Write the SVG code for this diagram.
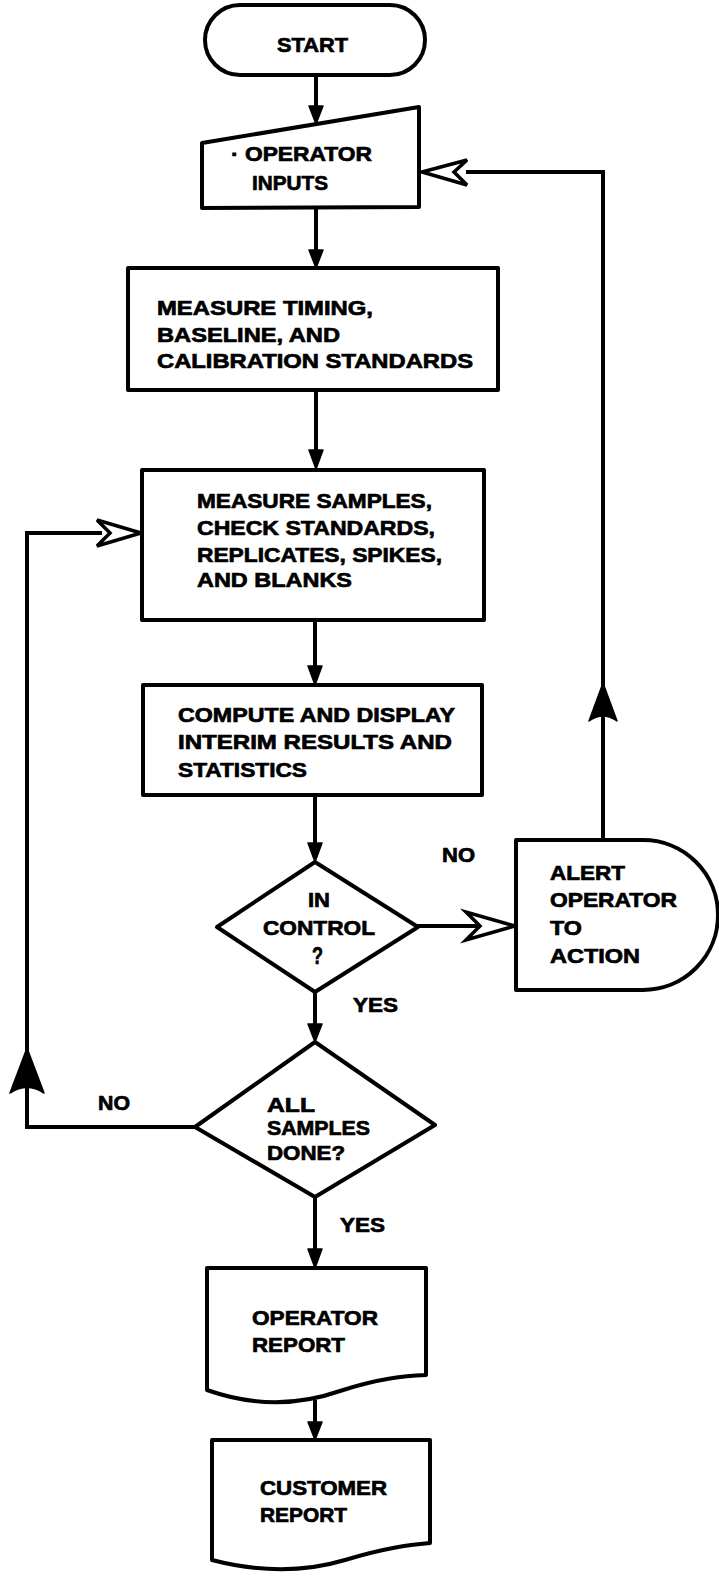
<svg xmlns="http://www.w3.org/2000/svg" width="719" height="1578" viewBox="0 0 719 1578">
  <defs>
    <style>
      .shape { fill: #fff; stroke: #000; stroke-width: 4; stroke-linejoin: round; }
      .line { fill: none; stroke: #000; stroke-width: 4; stroke-linecap: square; }
      .head { fill: #000; stroke: #000; stroke-width: 1.5; stroke-linejoin: round; }
      .open { fill: #fff; stroke: #000; stroke-width: 3.5; stroke-linejoin: miter; }
      text { font-family: "Liberation Sans", Arial, sans-serif; font-weight: bold; font-size: 21px; fill: #000; stroke: #000; stroke-width: 0.7; }
    </style>
  </defs>

  <rect width="719" height="1578" fill="#fff"/>

  <!-- connectors -->
  <g id="connectors">
    <!-- start -> operator inputs -->
    <line class="line" x1="316" y1="75" x2="316" y2="108"/>
    <path class="head" d="M316,124 L309,106 L323,106 Z"/>
    <!-- operator inputs -> measure timing -->
    <line class="line" x1="316" y1="208" x2="316" y2="252"/>
    <path class="head" d="M316,268 L309,250 L323,250 Z"/>
    <!-- measure timing -> measure samples -->
    <line class="line" x1="316" y1="390" x2="316" y2="452"/>
    <path class="head" d="M316,469 L309,450 L323,450 Z"/>
    <!-- measure samples -> compute -->
    <line class="line" x1="315" y1="620" x2="315" y2="668"/>
    <path class="head" d="M315,685 L308,666 L322,666 Z"/>
    <!-- compute -> in control -->
    <line class="line" x1="315" y1="795" x2="315" y2="845"/>
    <path class="head" d="M315,862 L308,843 L322,843 Z"/>
    <!-- in control (yes) -> all samples done -->
    <line class="line" x1="315" y1="992" x2="315" y2="1026"/>
    <path class="head" d="M315,1042 L308,1024 L322,1024 Z"/>
    <!-- all samples done (yes) -> operator report -->
    <line class="line" x1="315" y1="1197" x2="315" y2="1251"/>
    <path class="head" d="M315,1268 L308,1249 L322,1249 Z"/>
    <!-- operator report -> customer report -->
    <line class="line" x1="315" y1="1402" x2="315" y2="1424"/>
    <path class="head" d="M315,1440 L308,1422 L322,1422 Z"/>

    <!-- in control (no) -> alert operator -->
    <line class="line" x1="418" y1="926" x2="478" y2="926"/>
    <path class="open" d="M515,926 L466,912 L480,926 L466,940 Z"/>

    <!-- alert operator -> back to operator inputs -->
    <polyline class="line" points="603,840 603,172 468,172"/>
    <path class="head" d="M603,683 L617,721 Q603,711 589,721 Z"/>
    <path class="open" d="M422,172 L467,160 L454,172 L467,185 Z"/>

    <!-- all samples done (no) -> back to measure samples -->
    <polyline class="line" points="195,1127 27,1127 27,533 100,533"/>
    <path class="head" d="M27,1048 L44,1093 Q27,1082 10,1093 Z"/>
    <path class="open" d="M141,533 L97,520 L110,533 L97,546 Z"/>
  </g>

  <!-- edge labels -->
  <g id="labels">
    <text x="442" y="862" textLength="33" lengthAdjust="spacingAndGlyphs">NO</text>
    <text x="353" y="1012" textLength="45" lengthAdjust="spacingAndGlyphs">YES</text>
    <text x="98" y="1110" textLength="32" lengthAdjust="spacingAndGlyphs">NO</text>
    <text x="340" y="1232" textLength="45" lengthAdjust="spacingAndGlyphs">YES</text>
  </g>

  <g id="start">
    <rect class="shape" x="205" y="5" width="220" height="70" rx="35" ry="35"/>
    <text x="277" y="52" textLength="71" lengthAdjust="spacingAndGlyphs">START</text>
  </g>

  <g id="operator-inputs">
    <path class="shape" d="M202,143 L419,107 L419,207 L202,208 Z"/>
    <text x="231" y="161" textLength="141" lengthAdjust="spacingAndGlyphs">· OPERATOR</text>
    <text x="252" y="190" textLength="76" lengthAdjust="spacingAndGlyphs">INPUTS</text>
  </g>

  <g id="measure-timing">
    <rect class="shape" x="128" y="268" width="370" height="122"/>
    <text x="157" y="315" textLength="216" lengthAdjust="spacingAndGlyphs">MEASURE TIMING,</text>
    <text x="157" y="342" textLength="183" lengthAdjust="spacingAndGlyphs">BASELINE, AND</text>
    <text x="157" y="368" textLength="316" lengthAdjust="spacingAndGlyphs">CALIBRATION STANDARDS</text>
  </g>

  <g id="measure-samples">
    <rect class="shape" x="142" y="470" width="342" height="150"/>
    <text x="197" y="508" textLength="235" lengthAdjust="spacingAndGlyphs">MEASURE SAMPLES,</text>
    <text x="197" y="535" textLength="238" lengthAdjust="spacingAndGlyphs">CHECK STANDARDS,</text>
    <text x="197" y="562" textLength="245" lengthAdjust="spacingAndGlyphs">REPLICATES, SPIKES,</text>
    <text x="197" y="587" textLength="155" lengthAdjust="spacingAndGlyphs">AND BLANKS</text>
  </g>

  <g id="compute">
    <rect class="shape" x="143" y="685" width="339" height="110"/>
    <text x="178" y="722" textLength="277" lengthAdjust="spacingAndGlyphs">COMPUTE AND DISPLAY</text>
    <text x="178" y="749" textLength="274" lengthAdjust="spacingAndGlyphs">INTERIM RESULTS AND</text>
    <text x="178" y="777" textLength="129" lengthAdjust="spacingAndGlyphs">STATISTICS</text>
  </g>

  <g id="in-control">
    <path class="shape" d="M315,862 L418,927 L315,992 L217,927 Z"/>
    <text x="308" y="907" textLength="22" lengthAdjust="spacingAndGlyphs">IN</text>
    <text x="263" y="935" textLength="112" lengthAdjust="spacingAndGlyphs">CONTROL</text>
    <text x="312" y="964" style="font-size:24px" textLength="11" lengthAdjust="spacingAndGlyphs">?</text>
  </g>

  <g id="alert-operator">
    <path class="shape" d="M516,840 L643,840 A75,75 0 0 1 643,990 L516,990 Z"/>
    <text x="550" y="880" textLength="75" lengthAdjust="spacingAndGlyphs">ALERT</text>
    <text x="550" y="907" textLength="127" lengthAdjust="spacingAndGlyphs">OPERATOR</text>
    <text x="550" y="935" textLength="32" lengthAdjust="spacingAndGlyphs">TO</text>
    <text x="550" y="963" textLength="90" lengthAdjust="spacingAndGlyphs">ACTION</text>
  </g>

  <g id="all-samples-done">
    <path class="shape" d="M315,1042 L435,1125 L315,1197 L195,1127 Z"/>
    <text x="267" y="1112" textLength="48" lengthAdjust="spacingAndGlyphs">ALL</text>
    <text x="267" y="1135" textLength="103" lengthAdjust="spacingAndGlyphs">SAMPLES</text>
    <text x="267" y="1160" textLength="78" lengthAdjust="spacingAndGlyphs">DONE?</text>
  </g>

  <g id="operator-report">
    <path class="shape" d="M207,1268 L426,1268 L426,1375 C405,1376 380,1378 340,1391 C300,1405 255,1407 207,1390 Z"/>
    <text x="252" y="1325" textLength="126" lengthAdjust="spacingAndGlyphs">OPERATOR</text>
    <text x="252" y="1352" textLength="93" lengthAdjust="spacingAndGlyphs">REPORT</text>
  </g>

  <g id="customer-report">
    <path class="shape" d="M212,1440 L430,1440 L430,1543 C408,1545 385,1548 345,1560 C305,1572 262,1573 212,1560 Z"/>
    <text x="260" y="1495" textLength="127" lengthAdjust="spacingAndGlyphs">CUSTOMER</text>
    <text x="260" y="1522" textLength="87" lengthAdjust="spacingAndGlyphs">REPORT</text>
  </g>
</svg>
